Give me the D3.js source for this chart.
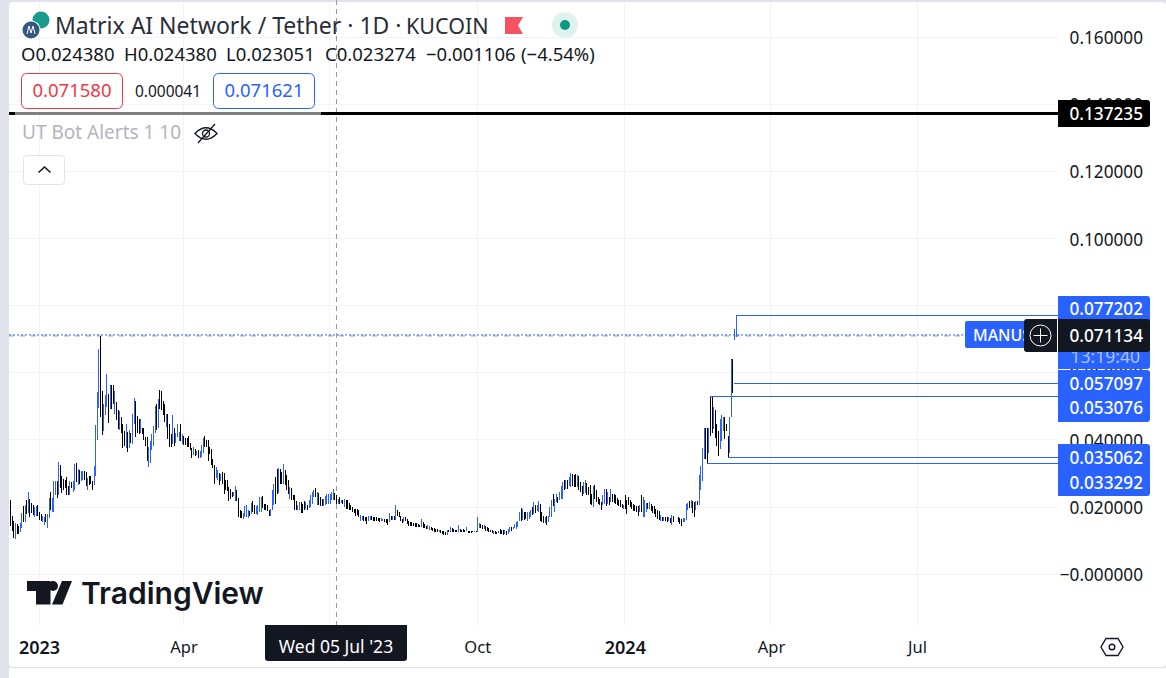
<!DOCTYPE html>
<html>
<head>
<meta charset="utf-8">
<script src="https://cdn.jsdelivr.net/npm/d3@7/dist/d3.min.js"></script>
<style>
  html, body { margin: 0; padding: 0; background: #fff; overflow: hidden; }
  text { font-family: "Noto Sans", sans-serif; fill: #131722; }
</style>
</head>
<body>
<svg id="chart" width="1166" height="678"></svg>
<script>
// one row per month, prices in units of 0.0001, bars run one per day from the row's start date
var monthStarts = ["2022-12-14","2023-01-01","2023-02-01","2023-03-01","2023-04-01","2023-05-01","2023-06-01",
  "2023-07-01","2023-08-01","2023-09-01","2023-10-01","2023-11-01","2023-12-01","2024-01-01","2024-02-03","2024-03-03"];

var highs = [
  [220,175,160,152,149,145,152,182,202,205,220,244,223,212,205,199,202,205],
  [187,179,175,172,179,179,227,244,227,277,277,277,334,325,292,284,282,289,262,279,275,277,327,330,315,312,307,307,309,304,287],
  [292,292,277,322,445,544,670,710,547,507,535,597,537,565,565,565,545,514,489,487,467,447,427,447,425,429,422,477],
  [525,517,472,462,462,437,437,409,409,379,397,417,442,502,507,522,549,547,517,507,477,477,447,419,475,435,422,447,424,447,417],
  [412,407,405,412,392,377,379,372,367,369,367,385,407,412,399,399,379,374,343,325,319,312,302,299,305,302,282,280,260,255],
  [245,245,262,252,227,192,189,182,202,205,192,189,212,217,205,202,205,230,230,232,210,210,205,192,195,252,270,290,315,318,315],
  [305,328,310,295,280,260,258,235,235,218,205,215,215,210,218,215,205,222,235,245,250,257,245,242,230,225,225,232,240,238],
  [240,245,253,242,235,225,230,222,222,225,222,220,212,205,200,195,195,195,190,178,175,175,172,170,175,173,173,172,170,170,168],
  [167,167,165,165,165,165,182,173,173,175,205,192,187,175,165,172,170,165,160,157,155,152,152,152,150,148,166,155,150,145,146],
  [143,140,138,138,135,135,133,132,130,128,125,133,133,142,138,135,133,133,148,135,133,135,133,142,130,130,130,130,130,130],
  [170,152,150,148,148,145,140,138,133,132,130,128,126,130,135,132,132,132,130,135,142,142,142,150,155,158,187,198,195,187,185],
  [185,185,192,200,214,205,205,218,210,185,175,172,175,175,200,222,238,225,238,230,245,262,275,280,282,280,290,303,298,296],
  [300,295,292,275,262,275,282,272,260,265,240,263,267,250,230,225,215,235,255,255,245,230,255,240,240,235,228,220,220,210,205],
  [235,220,230,222,215,210,206,202,202,205,237,230,220,213,212,215,210,204,202,195,190,188,178,172,170,170,170,172,168,178,174],
  [170,168,165,167,167,209,212,217,222,217,215,217,217,295,322,377,437,437,437,437,529,529,499,489,447,427,462,475,467],
  [469,447,412,469,640,642,729,771]
];

var lows = [
  [145,130,109,105,119,121,127,139,155,157,181,183,172,182,177,172,175,175],
  [162,159,157,147,157,137,167,192,187,187,237,227,237,257,242,252,257,237,237,235,257,245,252,275,267,270,277,282,282,262,252],
  [267,270,250,267,292,401,495,467,415,427,475,497,452,492,492,507,477,460,432,429,422,377,382,375,365,377,392,387],
  [447,410,422,417,422,417,399,382,337,319,332,369,382,422,430,437,492,489,475,455,439,404,380,380,389,382,392,410,397,397,387],
  [385,385,379,379,369,347,354,352,354,347,347,349,362,379,379,337,357,325,317,269,287,282,267,277,269,239,252,247,217,225],
  [229,232,219,217,172,167,167,164,172,172,167,175,179,185,179,179,177,185,185,198,192,190,188,173,175,190,205,210,240,242,270],
  [270,270,265,250,240,225,220,220,190,190,190,190,182,182,192,195,192,198,200,210,230,230,205,205,202,202,202,205,208,210],
  [210,220,222,220,208,210,210,212,208,200,195,195,190,192,185,182,175,178,170,158,162,160,158,150,158,162,162,160,158,160,158],
  [157,160,158,155,152,148,155,162,162,162,163,175,170,158,152,155,158,150,145,145,145,143,142,142,141,140,140,137,137,135,135],
  [133,132,130,127,125,125,125,123,120,118,116,118,127,127,127,127,127,127,127,127,127,127,127,130,123,122,124,125,125,125],
  [127,138,138,135,134,130,130,125,125,122,120,120,120,122,120,120,118,120,118,120,125,130,134,138,134,140,160,160,162,162,165],
  [160,165,170,178,180,182,188,185,160,157,153,152,148,155,170,170,202,185,215,212,222,225,225,250,255,255,262,260,262,260],
  [260,260,250,245,233,240,242,235,235,208,205,200,225,215,210,205,192,205,208,203,210,205,215,215,213,210,205,203,200,198,195],
  [195,180,205,200,195,188,188,185,175,185,185,170,170,185,195,195,188,182,180,172,165,162,160,160,160,158,155,158,152,148,155],
  [155,150,145,155,157,162,192,197,197,182,172,192,205,207,252,277,342,342,327,362,412,420,432,407,382,352,372,397,427],
  [402,427,345,362,467,539,699,707]
];

// B = up bar, K = down bar
var sides = [
  "KKKBKKBBKBKBKKKBBK",
  "KKBBKBBKBBBKBKKKKKKBKBBKBKBBKKB",
  "KKKBBBBKKBBBKBKKBKKBKKKBKBKB",
  "BKKKBKKKKBBBBBKBKKKKBKKKBKBBBKB",
  "KKKKKKBKBKBBBKKKKKKKBBKBKKKKKK",
  "KBBKKKKBBBBKBKKBBBBKKKKKBBBKKBK",
  "KBKKKBKKKKBBKKKBKBBBBKBKKKBBBB",
  "BBBKKBKBKBKKKKKKKKKBBKKKBBKKKKK",
  "KBBKKKBKBKBKKKKBKKKKKKKKKKBKKKB",
  "BKKKKKBKKKKBKBKKKKBKKKKBKKKKBK",
  "BBKKBKKKKKBKKBKKKBKBBKBBBBBKBKK",
  "BBBKBKBBKKKBKBBBKBBKBBBKBKBBKK",
  "KBKKKBBKKKKBKKKKKBBKBKBKKKKKKKB",
  "KKKKKKKKKBKBBBKBKKKKKKBKBKKBKBK",
  "KKKBBBBKBKKBKBBBBKKBKKBKKKBBB",
  "KKKBBKBB"
];

var priceTicks = [0, 0.02, 0.04, 0.06, 0.08, 0.10, 0.12, 0.14, 0.16];
var timeTicks = ["2023-01-01","2023-04-01","2023-07-01","2023-10-01","2024-01-01","2024-04-01","2024-07-01"];
var timeLabels = ["2023","Apr","Jul","Oct","2024","Apr","Jul"];

var levelPrices = [0.077202, 0.057097, 0.053076, 0.035062, 0.033292];
var levelStarts = ["2024-03-10","2024-03-09","2024-02-23","2024-03-05","2024-02-21"];
var levelLabels = ["0.077202","0.057097","0.053076","0.035062","0.033292"];

var ohlcLabels = ["O0.024380","H0.024380","L0.023051","C0.023274","\u22120.001106","(\u22124.54%)"];

var blackLevel = 0.137235;
var lastPrice = 0.071134;

var BLUE = "#2962ff", DARK = "#131722", GRID = "#f0f3fa", EDGE = "#e0e3eb";

var paneLeft = 9, paneRight = 1058, paneBottom = 625;

var parse = d3.utcParse("%Y-%m-%d");

var xScale = d3.scaleUtc()
    .domain([parse(timeTicks[0]), parse(timeTicks[6])])
    .range([39, 917]);

var yScale = d3.scaleLinear()
    .domain([0, 0.16])
    .range([574.3, 37]);

var bars = [];
monthStarts.forEach(function(start, m){
    highs[m].forEach(function(high, i){
        bars.push({
            date: d3.utcDay.offset(parse(start), i),
            high: high * 0.0001,
            low: lows[m][i] * 0.0001,
            up: sides[m][i] === "B"
        });
    });
});

var svg = d3.select("#chart");

// window frame
svg.append("rect").attr("width", 1166).attr("height", 678).attr("fill", EDGE);
svg.append("rect").attr("x", paneLeft).attr("y", 2).attr("width", 1157).attr("height", 665)
    .attr("rx", 4).attr("fill", "#fff");
svg.append("rect").attr("x", 0).attr("y", 668).attr("width", 1166).attr("height", 10).attr("fill", "#fff");
svg.append("rect").attr("x", 0).attr("y", 668).attr("width", 9).attr("height", 10).attr("fill", EDGE);

// grid
var grid = svg.append("g").attr("shape-rendering", "crispEdges");
grid.append("g").selectAll("line").data(priceTicks).enter().append("line")
    .attr("x1", paneLeft).attr("x2", paneRight)
    .attr("y1", d => yScale(d)).attr("y2", d => yScale(d))
    .attr("stroke", GRID);
grid.append("g").selectAll("line").data(timeTicks).enter().append("line")
    .attr("x1", d => xScale(parse(d))).attr("x2", d => xScale(parse(d)))
    .attr("y1", 2).attr("y2", paneBottom)
    .attr("stroke", GRID);

// price axis
var rightAxis = d3.axisRight(yScale)
    .tickValues(priceTicks)
    .tickSize(0)
    .tickPadding(0)
    .tickFormat(d => (d === 0 ? "\u22120.000000" : d.toFixed(6)));
var priceAxis = svg.append("g")
    .attr("transform", "translate(1143,1)")
    .call(rightAxis);
priceAxis.select(".domain").remove();
priceAxis.selectAll("text").attr("text-anchor", "end").attr("font-size", 17.2)
    .style("font-family", '"Noto Sans", sans-serif').attr("fill", DARK);

// time axis
var bottomAxis = d3.axisBottom(xScale)
    .tickValues(timeTicks.map(parse))
    .tickSize(0)
    .tickPadding(0)
    .tickFormat((d, i) => timeLabels[i]);
var timeAxis = svg.append("g")
    .attr("transform", "translate(0,641)")
    .call(bottomAxis);
timeAxis.select(".domain").remove();
timeAxis.selectAll("text")
    .style("font-family", '"Noto Sans", sans-serif').attr("fill", DARK)
    .attr("font-size", (d, i) => (i === 0 || i === 4 ? 18 : 16.5))
    .attr("font-weight", (d, i) => (i === 0 || i === 4 ? 600 : 400));

// watermark
var logo = svg.append("g").attr("fill", DARK);
logo.append("path").attr("d", "M27 581H50.5V604.5H36V591H27Z");
logo.append("circle").attr("cx", 53).attr("cy", 586).attr("r", 5);
logo.append("path").attr("d", "M62 581H72L62.5 604.5H52Z");
svg.append("text").attr("x", 81).attr("y", 604).attr("font-size", 30).attr("font-weight", 600)
    .style("font-family", "Inter, sans-serif").text("TradingView");

// crosshair
svg.append("line").attr("x1", 336.5).attr("x2", 336.5).attr("y1", 0).attr("y2", paneBottom)
    .attr("stroke", "#9598a1").attr("stroke-dasharray", "5 4");

// last price line
svg.append("line").attr("x1", paneLeft).attr("x2", 1024)
    .attr("y1", yScale(lastPrice) + 0.5).attr("y2", yScale(lastPrice) + 0.5)
    .attr("stroke", "#9598a1").attr("stroke-dasharray", "5 6");
svg.append("line").attr("x1", paneLeft).attr("x2", 965)
    .attr("y1", yScale(lastPrice) - 0.5).attr("y2", yScale(lastPrice) - 0.5)
    .attr("stroke", BLUE).attr("stroke-dasharray", "2 2");

// range bars
svg.append("g").attr("shape-rendering", "crispEdges")
    .selectAll("line").data(bars).enter().append("line")
    .attr("x1", d => Math.round(xScale(d.date)) + 0.5)
    .attr("x2", d => Math.round(xScale(d.date)) + 0.5)
    .attr("y1", d => yScale(d.high))
    .attr("y2", d => yScale(d.low))
    .attr("stroke", d => (d.up ? BLUE : "#000"));

// level rays
svg.append("g").attr("shape-rendering", "crispEdges")
    .selectAll("line").data(levelPrices).enter().append("line")
    .attr("x1", (d, i) => xScale(parse(levelStarts[i])))
    .attr("x2", paneRight)
    .attr("y1", d => Math.round(yScale(d)) + 0.5)
    .attr("y2", d => Math.round(yScale(d)) + 0.5)
    .attr("stroke", BLUE);

// black level and its grey stretch
svg.append("line").attr("x1", paneLeft).attr("x2", paneRight)
    .attr("y1", yScale(blackLevel)).attr("y2", yScale(blackLevel))
    .attr("stroke", "#000").attr("stroke-width", 3);
svg.append("line").attr("x1", 15).attr("x2", 321)
    .attr("y1", yScale(blackLevel)).attr("y2", yScale(blackLevel))
    .attr("stroke", "#808080").attr("stroke-width", 3);

// price labels on the right
function rightLabel(y0, y1, fill){
    svg.append("path")
        .attr("d", `M1058 ${y0}H1147a3 3 0 0 1 3 3V${y1 - 3}a3 3 0 0 1 -3 3H1058Z`)
        .attr("fill", fill);
}
function labelText(y, label){
    svg.append("text").attr("x", 1143).attr("y", y).attr("dy", "0.35em").attr("text-anchor", "end")
        .attr("font-size", 17.2).attr("font-weight", 500).style("fill", "#fff").text(label);
}
rightLabel(296, 369, BLUE);
rightLabel(370, 422, BLUE);
rightLabel(444, 496, BLUE);
rightLabel(100, 127, "#000");
labelText(114, blackLevel.toFixed(6));
levelPrices.forEach(function(d, i){
    labelText([309, 384, 408, 458, 483][i], levelLabels[i]);
});
svg.append("text").attr("x", 1140).attr("y", 357).attr("dy", "0.35em").attr("text-anchor", "end")
    .attr("font-size", 17.5).style("fill", "#a9c1ff").text("13:19:40");
rightLabel(319, 352, DARK);
labelText(336, lastPrice.toFixed(6));

// MANUS tag and plus button
svg.append("rect").attr("x", 965).attr("y", 321).attr("width", 64).attr("height", 27).attr("rx", 2).attr("fill", BLUE);
svg.append("text").attr("x", 973).attr("y", 335).attr("dy", "0.35em").attr("font-size", 16).attr("font-weight", 500)
    .attr("textLength", 58).attr("lengthAdjust", "spacingAndGlyphs")
    .style("fill", "#fff").text("MANUS");
svg.append("path").attr("d", "M1057 319H1027a3 3 0 0 0 -3 3V349a3 3 0 0 0 3 3H1057Z").attr("fill", DARK);
svg.append("circle").attr("cx", 1040.5).attr("cy", 335.5).attr("r", 10.5).attr("fill", "none").attr("stroke", "#fff");
svg.append("path").attr("d", "M1033.5 335.5H1047.5M1040.5 328.5V342.5").attr("stroke", "#fff");

// crosshair date label
svg.append("path").attr("d", "M265 625H407V658a3 3 0 0 1 -3 3H268a3 3 0 0 1 -3 -3Z").attr("fill", DARK);
svg.append("text").attr("x", 336).attr("y", 653).attr("text-anchor", "middle").attr("font-size", 17.5)
    .style("fill", "#fff").text("Wed 05 Jul '23");

// settings icon
svg.append("path").attr("d", "M1106 638.5H1118L1123 647L1118 655.5H1106L1101 647Z")
    .attr("fill", "none").attr("stroke", DARK).attr("stroke-width", 1.4);
svg.append("circle").attr("cx", 1112).attr("cy", 647).attr("r", 2.8)
    .attr("fill", "none").attr("stroke", DARK).attr("stroke-width", 1.4);

// legend, symbol line
svg.append("circle").attr("cx", 41).attr("cy", 20).attr("r", 8.5).attr("fill", "#1a9c8c");
svg.append("circle").attr("cx", 31).attr("cy", 30).attr("r", 9.5).attr("fill", "#fff");
svg.append("circle").attr("cx", 31).attr("cy", 30).attr("r", 8.5).attr("fill", "#33577f");
svg.append("path").attr("d", "M27 34L29 26L31 33L33 26L35 34").attr("fill", "none").attr("stroke", "#fff");
svg.append("text").attr("x", 55).attr("y", 34).attr("font-size", 23).style("fill", "#2a2e39")
    .text("Matrix AI Network / Tether \u00b7 1D \u00b7");
svg.append("text").attr("x", 406).attr("y", 34).attr("font-size", 21.5).style("fill", "#2a2e39").text("KUCOIN");
svg.append("path").attr("d", "M505 17H523L518 25.5L523 34H505Z").attr("fill", "#f7525f");
svg.append("circle").attr("cx", 565).attr("cy", 25).attr("r", 13).attr("fill", "#e0f2ef");
svg.append("circle").attr("cx", 565).attr("cy", 25).attr("r", 5).attr("fill", "#089981");

svg.append("g").selectAll("text").data(ohlcLabels).enter().append("text")
    .attr("x", (d, i) => [21, 124, 226, 325, 426, 521][i])
    .attr("y", 61).attr("font-size", 18.5)
    .text(d => d);

// buy and sell buttons
svg.append("rect").attr("x", 21.5).attr("y", 73.5).attr("width", 101).attr("height", 35).attr("rx", 5)
    .attr("fill", "#fff").attr("stroke", "#f23645");
svg.append("text").attr("x", 72).attr("y", 97).attr("text-anchor", "middle").attr("font-size", 18.5)
    .style("fill", "#f23645").text("0.071580");
svg.append("text").attr("x", 168).attr("y", 97).attr("text-anchor", "middle").attr("font-size", 15.5).text("0.000041");
svg.append("rect").attr("x", 213.5).attr("y", 73.5).attr("width", 101).attr("height", 35).attr("rx", 5)
    .attr("fill", "#fff").attr("stroke", BLUE);
svg.append("text").attr("x", 264).attr("y", 97).attr("text-anchor", "middle").attr("font-size", 18.5)
    .style("fill", BLUE).text("0.071621");

// indicator row
svg.append("text").attr("x", 22).attr("y", 139).attr("font-size", 19).style("fill", "#b2b5be").text("UT Bot Alerts 1 10");
svg.append("path").attr("d", "M195 133.5Q206 122 217 133.5Q206 145 195 133.5ZM198 143L215 124")
    .attr("fill", "none").attr("stroke", DARK).attr("stroke-width", 1.3);
svg.append("circle").attr("cx", 206).attr("cy", 133.5).attr("r", 3.5).attr("fill", "none").attr("stroke", DARK).attr("stroke-width", 1.3);
svg.append("rect").attr("x", 23.5).attr("y", 155.5).attr("width", 41).attr("height", 29).attr("rx", 3)
    .attr("fill", "#fff").attr("stroke", EDGE);
svg.append("path").attr("d", "M38.5 172.5L44.5 167L50.5 172.5").attr("fill", "none").attr("stroke", DARK).attr("stroke-width", 1.6);
</script>
</body>
</html>
